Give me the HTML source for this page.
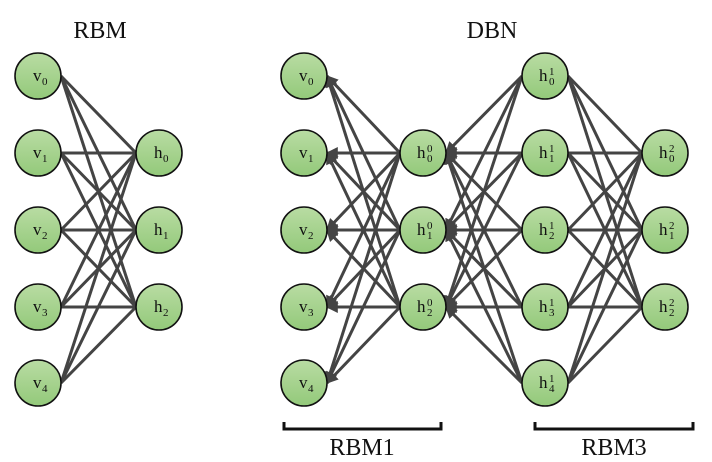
<!DOCTYPE html>
<html><head><meta charset="utf-8"><style>
html,body{margin:0;padding:0;background:#fff;}
svg{display:block;}
text{font-family:"Liberation Serif",serif;fill:#111;}
</style></head><body>
<svg id="s" width="712" height="462" viewBox="0 0 712 462" xmlns="http://www.w3.org/2000/svg">
<defs>
<linearGradient id="g" x1="0" y1="0" x2="0" y2="1"><stop offset="0" stop-color="#b9dca3"/><stop offset="1" stop-color="#93c97a"/></linearGradient>
<marker id="a" viewBox="0 0 10 10" refX="9" refY="5" markerWidth="4" markerHeight="4" orient="auto"><path d="M0,0 L10,5 L0,10 z" fill="#444"/></marker>
</defs>
<g id="lines"></g>
<g id="nodes"></g>
<text x="100" y="38" font-size="24" text-anchor="middle">RBM</text>
<text x="492" y="38" font-size="24" text-anchor="middle">DBN</text>
<path d="M284,422 V429 H441 V422" fill="none" stroke="#111" stroke-width="3"/>
<path d="M535,422 V429 H693 V422" fill="none" stroke="#111" stroke-width="3"/>
<text x="362" y="455" font-size="24" text-anchor="middle">RBM1</text>
<text x="614" y="455" font-size="24" text-anchor="middle">RBM3</text>
</svg>
<script>
var R=23, ys5=[76,153,230,307,383], ys3=[153,230,307];
var L=document.getElementById('lines'), N=document.getElementById('nodes');
var ns='http://www.w3.org/2000/svg';
function line(x1,y1,x2,y2,arrow){
 var s=x2>x1?1:-1;
 var l=document.createElementNS(ns,'line');
 l.setAttribute('x1',x1+s*R);l.setAttribute('y1',y1);
 l.setAttribute('x2',x2-s*R);l.setAttribute('y2',y2);
 l.setAttribute('stroke','#444');l.setAttribute('stroke-width','3');
 if(arrow)l.setAttribute('marker-end','url(#a)');
 L.appendChild(l);
}
function conn(xa,ya,xb,yb,arrow){ya.forEach(function(a){yb.forEach(function(b){line(xa,a,xb,b,arrow);});});}
conn(38,ys5,159,ys3,false);
conn(423,ys3,304,ys5,true);
conn(545,ys5,423,ys3,true);
conn(545,ys5,665,ys3,false);
function node(x,y,base,sup,sub){
 var c=document.createElementNS(ns,'circle');
 c.setAttribute('cx',x);c.setAttribute('cy',y);c.setAttribute('r',R);
 c.setAttribute('fill','url(#g)');c.setAttribute('stroke','#111');c.setAttribute('stroke-width','1.6');
 N.appendChild(c);
 var t=document.createElementNS(ns,'text');
 t.setAttribute('x',x-(sup!==null?6:5));t.setAttribute('y',y+5);t.setAttribute('font-size','17');
 t.textContent=base;N.appendChild(t);
 var s=document.createElementNS(ns,'text');
 s.setAttribute('x',x+4);s.setAttribute('y',y+9);s.setAttribute('font-size','11');s.textContent=sub;N.appendChild(s);
 if(sup!==null){var p=document.createElementNS(ns,'text');p.setAttribute('x',x+4);p.setAttribute('y',y-1);p.setAttribute('font-size','11');p.textContent=sup;N.appendChild(p);}
}
ys5.forEach(function(y,i){node(38,y,'v',null,i);node(304,y,'v',null,i);node(545,y,'h','1',i);});
ys3.forEach(function(y,i){node(159,y,'h',null,i);node(423,y,'h','0',i);node(665,y,'h','2',i);});
</script>
</body></html>
